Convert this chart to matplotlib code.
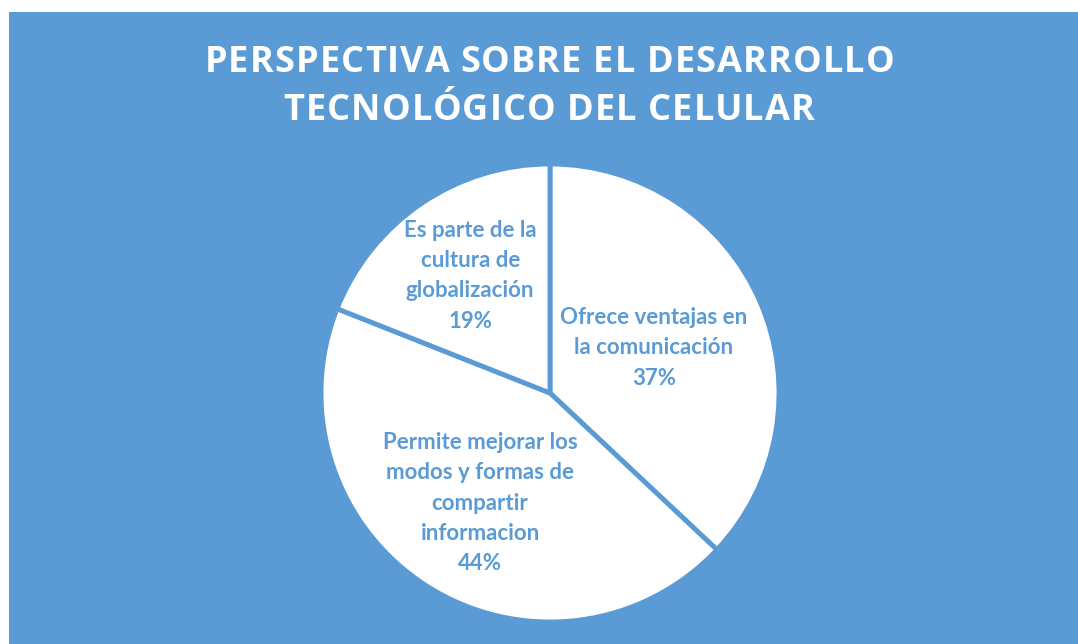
import matplotlib
matplotlib.use('Agg')
import matplotlib.pyplot as plt
import numpy as np
from matplotlib.patches import Rectangle
from matplotlib.font_manager import FontProperties

categories = ['Ofrece ventajas en\nla comunicación',
              'Permite mejorar los\nmodos y formas de\ncompartir\ninformacion',
              'Es parte de la\ncultura de\nglobalización']
values = [37, 44, 19]
title_lines = ['PERSPECTIVA SOBRE EL DESARROLLO', 'TECNOLÓGICO DEL CELULAR']

BLUE = '#5B9BD5'
W, H = 1078, 644

fig = plt.figure(figsize=(W / 100, H / 100), dpi=100, facecolor='white')
# blue chart area (small white margin top/left like the original)
fig.patches.append(Rectangle((9 / W, 0), 1 - 9 / W, 1 - 12 / H,
                             transform=fig.transFigure, facecolor=BLUE,
                             edgecolor='none', zorder=-5))

r_px = 229
cx, cy = 550, H - 393
ax = fig.add_axes([(cx - r_px) / W, (cy - r_px) / H, 2 * r_px / W, 2 * r_px / H])
ax.set_facecolor('none')
ax.set_zorder(2)

wedges, _ = ax.pie(values, startangle=90, counterclock=False,
                   colors=['white'] * len(values),
                   wedgeprops=dict(edgecolor=BLUE, linewidth=3.5))
ax.set_xlim(-1, 1)
ax.set_ylim(-1, 1)
ax.set_aspect('equal')

# label distance from the centre, per slice
dists = [0.495, 0.57, 0.62]
for w, lab, v, d in zip(wedges, categories, values, dists):
    ang = np.deg2rad((w.theta1 + w.theta2) / 2)
    ax.text(d * np.cos(ang), d * np.sin(ang), f'{lab}\n{v}%',
            ha='center', va='center', color=BLUE, fontsize=16,
            fontweight='bold', family=['Lato', 'DejaVu Sans'],
            linespacing=1.55)

# title with letter spacing: place each character by hand
prop = FontProperties(family=['Open Sans', 'DejaVu Sans'], weight='bold', size=26)
renderer = fig.canvas.get_renderer()

def text_w(s):
    return renderer.get_text_width_height_descent(s, prop, ismath=False)[0]

track = 1.15  # extra pixels between letters
for line, ypix in zip(title_lines, [58, 106]):
    bar = text_w('|')
    xs = [text_w(line[:i] + '|') - bar if i else 0 for i in range(len(line))]
    total = text_w(line) + track * (len(line) - 1)
    x0 = 549 - total / 2
    for i, ch in enumerate(line):
        if ch == ' ':
            continue
        fig.text((x0 + xs[i] + i * track) / W, 1 - ypix / H, ch,
                 ha='left', va='center_baseline', color='white',
                 fontproperties=prop)

plt.savefig('out.png', dpi=100, facecolor='white')
plt.close()
